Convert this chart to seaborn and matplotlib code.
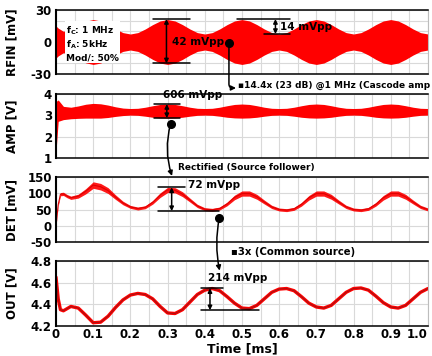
import numpy as np
import matplotlib
matplotlib.use("Agg")
import matplotlib.pyplot as plt
import seaborn as sns

# time bases [ms]
t_env = [0.0, 0.006] + [round(0.02 * k, 2) for k in range(1, 51)]
t_sig = [0.0, 0.006, 0.012, 0.02, 0.03, 0.04] + [round(0.02 * k, 2) for k in range(3, 51)]

# RF input envelope (+/- mV)
rfin_env = [15, 13, 10, 12, 16, 19.5, 21,
            19.7, 16.3, 12.2, 8.8, 7.5, 8.8, 12.2, 16.3, 19.7, 21,
            19.7, 16.3, 12.2, 8.8, 7.5, 8.8, 12.2, 16.3, 19.7, 21,
            19.7, 16.3, 12.2, 8.8, 7.5, 8.8, 12.2, 16.3, 19.7, 21,
            19.7, 16.3, 12.2, 8.8, 7.5, 8.8, 12.2, 16.3, 19.7, 21,
            19.7, 16.3, 12.2, 8.8, 7.5]

# amplifier output band [V]
amp_hi = [3.65, 3.72, 3.42, 3.38, 3.44, 3.52, 3.56,
          3.54, 3.48, 3.4, 3.34, 3.32, 3.33, 3.38, 3.45, 3.51, 3.53,
          3.51, 3.45, 3.38, 3.33, 3.32, 3.33, 3.38, 3.45, 3.51, 3.53,
          3.51, 3.45, 3.38, 3.33, 3.32, 3.33, 3.38, 3.45, 3.51, 3.53,
          3.51, 3.45, 3.38, 3.33, 3.32, 3.33, 3.38, 3.45, 3.51, 3.53,
          3.51, 3.45, 3.38, 3.33, 3.32]
amp_lo = [1.3, 2.72, 2.8, 2.84, 2.86, 2.87, 2.87,
          2.87, 2.9, 2.95, 2.99, 3.01, 3.0, 2.96, 2.91, 2.88, 2.87,
          2.88, 2.91, 2.96, 3.0, 3.01, 3.0, 2.96, 2.91, 2.88, 2.87,
          2.88, 2.91, 2.96, 3.0, 3.01, 3.0, 2.96, 2.91, 2.88, 2.87,
          2.88, 2.91, 2.96, 3.0, 3.01, 3.0, 2.96, 2.91, 2.88, 2.87,
          2.88, 2.91, 2.96, 3.0, 3.01]

# detector output [mV] and its ripple half-width
det_mv = [0, 65, 97, 98, 91, 86,
          91, 106, 125, 120, 108, 88, 70, 58, 53, 57, 72, 94, 110,
          109, 97, 79, 61, 51, 49, 53, 67, 87, 99,
          99, 89, 73, 58, 50, 48, 52, 66, 86, 99,
          99, 89, 73, 58, 50, 48, 52, 66, 86, 99,
          99, 89, 73, 58, 50]
det_spread = [2, 4, 5, 5, 5, 5,
              6, 8, 10, 10, 9, 7, 5.5, 4.5, 4.5, 4.5, 5.5, 7, 8,
              8, 7.5, 6, 5, 4.5, 4.5, 4.5, 5.5, 7, 8,
              8, 7.5, 6, 5, 4.5, 4.5, 4.5, 5.5, 7, 8,
              8, 7.5, 6, 5, 4.5, 4.5, 4.5, 5.5, 7, 8,
              8, 7.5, 6, 5, 4.5]

# common-source output [V]
out_v = [4.65, 4.45, 4.35, 4.34, 4.36, 4.38,
         4.365, 4.3, 4.23, 4.235, 4.29, 4.37, 4.44, 4.485, 4.5, 4.49, 4.45, 4.38, 4.32,
         4.315, 4.35, 4.42, 4.49, 4.53, 4.545, 4.525, 4.47, 4.41, 4.365,
         4.36, 4.39, 4.45, 4.51, 4.54, 4.545, 4.525, 4.47, 4.41, 4.375,
         4.365, 4.39, 4.45, 4.51, 4.545, 4.55, 4.53, 4.475, 4.415, 4.375,
         4.365, 4.39, 4.45, 4.51, 4.545]

x_ticks = [0, 0.1, 0.2, 0.3, 0.4, 0.5, 0.6, 0.7, 0.8, 0.9, 1.0]
x_labels = ["0", "0.1", "0.2", "0.3", "0.4", "0.5", "0.6", "0.7", "0.8", "0.9", "1.0"]

RED = "#ff0000"

sns.set_style("white")
plt.rcParams["font.family"] = ["DejaVu Sans"]
plt.rcParams["font.weight"] = "bold"
plt.rcParams["axes.unicode_minus"] = False
plt.rcParams["text.color"] = "black"
plt.rcParams["axes.labelcolor"] = "black"
plt.rcParams["xtick.color"] = "black"
plt.rcParams["ytick.color"] = "black"

fig = plt.figure(figsize=(4.32, 3.56), dpi=100)
rects = [[0.1296, 0.792, 0.861, 0.180],
         [0.1296, 0.556, 0.861, 0.180],
         [0.1296, 0.320, 0.861, 0.183],
         [0.1296, 0.0843, 0.861, 0.183]]
axs = [fig.add_axes(r) for r in rects]

ylims = [(-30, 30), (1, 4), (-50, 150), (4.2, 4.8)]
yticks = [[-30, 0, 30], [1, 2, 3, 4], [-50, 0, 50, 100, 150], [4.2, 4.4, 4.6, 4.8]]
ylabels_tick = [["-30", "0", "30"], ["1", "2", "3", "4"],
                ["-50", "0", "50", "100", "150"], ["4.2", "4.4", "4.6", "4.8"]]
names = ["RFIN [mV]", "AMP [V]", "DET [mV]", "OUT [V]"]

for i, ax in enumerate(axs):
    ax.set_xlim(0, 1.0)
    ax.set_ylim(*ylims[i])
    ax.set_xticks(x_ticks)
    ax.set_xticks(np.arange(0.05, 1.0, 0.1), minor=True)
    ax.set_yticks(yticks[i])
    ax.set_yticklabels(ylabels_tick[i], fontsize=8.5, fontweight="bold")
    if i == 3:
        labs = ax.set_xticklabels(x_labels, fontsize=8.5, fontweight="bold")
        labs[-1].set_horizontalalignment("right")
    else:
        ax.set_xticklabels([])
    ax.grid(which="both", color="#d9d9d9", lw=0.8)
    ax.set_axisbelow(True)
    ax.tick_params(which="both", length=0, pad=3)
    ax.set_ylabel(names[i], fontsize=8.5, fontweight="bold")
    ax.yaxis.set_label_coords(-0.10, 0.5)
    for s in ["left", "bottom", "top"]:
        ax.spines[s].set_color("black")
        ax.spines[s].set_linewidth(1.1)
    ax.spines["left"].set_linewidth(1.5)
    ax.spines["right"].set_color("#bdbdbd")
    ax.spines["right"].set_linewidth(0.8)

axs[0].set_yticks([-20, -10, 10, 20], minor=True)
axs[3].tick_params(axis="x", pad=1.5)

# RFIN
env = np.array(rfin_env)
axs[0].fill_between(t_env, -env, env, color=RED, lw=0)
# AMP
axs[1].fill_between(t_env, amp_lo, amp_hi, color=RED, lw=0)
# DET
d = np.array(det_mv)
sp = np.array(det_spread)
axs[2].fill_between(t_sig, d - sp, d + sp, color=RED, lw=0, alpha=0.9)
sns.lineplot(x=t_sig, y=det_mv, ax=axs[2], color="#e00000", lw=0.8)
# OUT
sns.lineplot(x=t_sig, y=out_v, ax=axs[3], color=RED, lw=2.4)
sns.lineplot(x=t_sig, y=out_v, ax=axs[3], color="#8a1a1a", lw=0.7, alpha=0.8)

fig.text(0.56, 0.019, "Time [ms]", ha="center", va="center", fontsize=9, fontweight="bold")

# ---- annotations ----
AK = dict(color="k", lw=1.1, clip_on=False, zorder=6)


def vmark(ax, x, y0, y1):
    ax.annotate("", xy=(x, y1), xytext=(x, y0),
                arrowprops=dict(arrowstyle="<|-|>", color="k", lw=1.1,
                                mutation_scale=6, shrinkA=0, shrinkB=0),
                annotation_clip=False, zorder=6)


def cap(ax, x0, x1, y):
    ax.plot([x0, x1], [y, y], **AK)


def dot(ax, x, y):
    ax.plot([x], [y], "o", color="k", ms=5.5, clip_on=False, zorder=7)


a0, a1, a2, a3 = axs

# RFIN
a0.text(0.027, -1, "$\\mathbf{f_C}$: 1 MHz\n$\\mathbf{f_A}$: 5kHz\nMod/: 50%",
        fontsize=6.5, fontweight="bold", ha="left", va="center", linespacing=1.25,
        bbox=dict(fc="white", ec="none", pad=0.8), zorder=5)
cap(a0, 0.26, 0.36, 21.5)
cap(a0, 0.26, 0.36, -20)
vmark(a0, 0.297, -20, 21.5)
a0.text(0.312, 0, "42 mVpp", fontsize=7.5, fontweight="bold", ha="left", va="center", zorder=6)
cap(a0, 0.488, 0.629, 21.5)
cap(a0, 0.559, 0.629, 7.5)
vmark(a0, 0.59, 7.5, 21.5)
a0.text(0.603, 14.3, "14 mVpp", fontsize=7.5, fontweight="bold", ha="left", va="center", zorder=6)
dot(a0, 0.465, -1)
a1.annotate("", xy=(0.484, 4.28), xycoords=a1.transData,
            xytext=(0.465, -1), textcoords=a0.transData,
            arrowprops=dict(arrowstyle="-|>", color="k", lw=1.1, mutation_scale=7,
                            shrinkA=0, shrinkB=0,
                            connectionstyle="angle,angleA=-90,angleB=0,rad=4"),
            annotation_clip=False, zorder=6)
a1.text(0.489, 4.42, "\u25aa14.4x (23 dB) @1 MHz (Cascode amp", fontsize=6.5,
        fontweight="bold", ha="left", va="center", clip_on=False)

# AMP
a1.text(0.288, 3.95, "606 mVpp", fontsize=7.5, fontweight="bold", ha="left", va="center", zorder=6)
cap(a1, 0.264, 0.334, 3.53)
cap(a1, 0.264, 0.334, 2.87)
vmark(a1, 0.298, 2.87, 3.53)
dot(a1, 0.308, 2.59)
a2.annotate("", xy=(0.312, 153), xycoords=a2.transData,
            xytext=(0.308, 2.59), textcoords=a1.transData,
            arrowprops=dict(arrowstyle="-|>", color="k", lw=1.1, mutation_scale=7,
                            shrinkA=0, shrinkB=0, connectionstyle="arc3,rad=0.15"),
            annotation_clip=False, zorder=6)
a2.text(0.328, 178, "Rectified (Source follower)", fontsize=6.5, fontweight="bold",
        ha="left", va="center", clip_on=False)

# DET
cap(a2, 0.274, 0.347, 118)
cap(a2, 0.274, 0.439, 45)
vmark(a2, 0.311, 45, 118)
a2.text(0.355, 125, "72 mVpp", fontsize=7.5, fontweight="bold", ha="left", va="center", zorder=6)
dot(a2, 0.439, 24)
a3.annotate("", xy=(0.44, 4.71), xycoords=a3.transData,
            xytext=(0.439, 24), textcoords=a2.transData,
            arrowprops=dict(arrowstyle="-|>", color="k", lw=1.1, mutation_scale=7,
                            shrinkA=0, shrinkB=0, connectionstyle="arc3,rad=0.1"),
            annotation_clip=False, zorder=6)
a3.text(0.47, 4.88, "\u25aa3x (Common source)", fontsize=7.3, fontweight="bold",
        ha="left", va="center", clip_on=False)

# OUT
a3.text(0.409, 4.64, "214 mVpp", fontsize=7.5, fontweight="bold", ha="left", va="center", zorder=6)
cap(a3, 0.39, 0.45, 4.548)
cap(a3, 0.39, 0.546, 4.345)
vmark(a3, 0.414, 4.345, 4.548)

fig.savefig("out.png", dpi=100)
